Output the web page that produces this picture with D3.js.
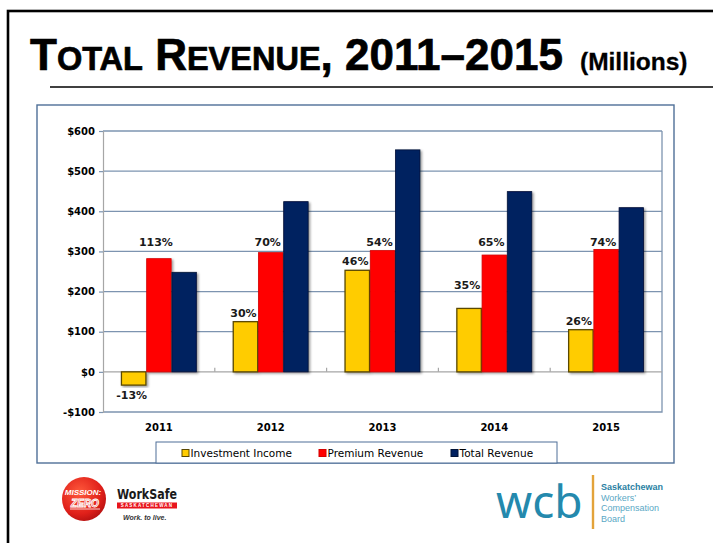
<!DOCTYPE html>
<html>
<head>
<meta charset="utf-8">
<script src="https://cdn.jsdelivr.net/npm/d3@7"></script>
<style>
  html, body { margin: 0; padding: 0; background: #fff; }
  svg { display: block; }
</style>
</head>
<body>
<svg id="chart" width="713" height="543"></svg>
<script>
// Revenue by year, in millions of dollars
const years = ['2011', '2012', '2013', '2014', '2015'];
const investmentIncome = [-33, 125, 253, 158, 105];
const premiumRevenue = [282, 297, 302, 291, 305];
const totalRevenue = [248, 424, 553, 449, 409];

// Share of total revenue printed over the bars
const investmentShare = ['-13%', '30%', '46%', '35%', '26%'];
const premiumShare = ['113%', '70%', '54%', '65%', '74%'];

const seriesNames = ['Investment Income', 'Premium Revenue', 'Total Revenue'];
const yTicks = [-100, 0, 100, 200, 300, 400, 500, 600];

const colors = {
  'Investment Income': '#FFCC00',
  'Premium Revenue': '#FF0000',
  'Total Revenue': '#002060'
};
const strokes = {
  'Investment Income': '#5a4800',
  'Premium Revenue': '#d40000',
  'Total Revenue': '#001236'
};

const svg = d3.select('#chart');

// drop shadow for bars
const defs = svg.append('defs');
const shadow = defs.append('filter').attr('id', 'barShadow')
  .attr('x', '-20%').attr('y', '-10%').attr('width', '150%').attr('height', '130%');
shadow.append('feDropShadow').attr('dx', 1.6).attr('dy', 1.4)
  .attr('stdDeviation', 0.8).attr('flood-color', '#000').attr('flood-opacity', 0.4);

const rg = defs.append('radialGradient').attr('id', 'mzGrad')
  .attr('cx', '40%').attr('cy', '35%').attr('r', '70%');
rg.append('stop').attr('offset', '0%').attr('stop-color', '#ff5a3c');
rg.append('stop').attr('offset', '70%').attr('stop-color', '#e0201a');
rg.append('stop').attr('offset', '100%').attr('stop-color', '#b31010');

// slide frame
svg.append('rect').attr('x', 8).attr('y', 11).attr('width', 800).attr('height', 600)
  .attr('fill', 'none').attr('stroke', '#000').attr('stroke-width', 2.6);

// title
const title = svg.append('text').attr('x', 30).attr('y', 70)
  .attr('font-family', '"Liberation Sans", Arial, sans-serif')
  .attr('font-weight', 'bold').attr('fill', '#000')
  .attr('stroke', '#000').attr('stroke-width', 0.7);
const big = 44, small = 32.5;
[['T', big], ['OTAL', small], [' R', big], ['EVENUE', small], [', 2011\u20132015', big]]
  .forEach(([t, s]) => title.append('tspan').attr('font-size', s).text(t));

svg.append('text').attr('x', 580).attr('y', 70)
  .attr('font-family', '"Liberation Sans", Arial, sans-serif')
  .attr('font-weight', 'bold').attr('font-size', 24.5).attr('fill', '#000')
  .attr('stroke', '#000').attr('stroke-width', 0.3)
  .text('(Millions)');

svg.append('line').attr('x1', 50).attr('x2', 713).attr('y1', 87).attr('y2', 87)
  .attr('stroke', '#000').attr('stroke-width', 1.3);

// chart frame
svg.append('rect').attr('x', 37).attr('y', 105).attr('width', 637).attr('height', 358)
  .attr('fill', '#fff').attr('stroke', '#4f6f98').attr('stroke-width', 1.4);

// plot area
const plot = { left: 103, right: 662, top: 131, bottom: 412 };
const gridColor = '#7d94b0';

const y = d3.scaleLinear().domain([-100, 600]).range([plot.bottom, plot.top]);
const x0 = d3.scaleBand().domain(years).range([plot.left, plot.right])
  .paddingInner(0.33).paddingOuter(0.165);
const x1 = d3.scaleBand().domain(seriesNames).range([0, x0.bandwidth()]).paddingInner(0.03);

// gridlines
svg.append('g').selectAll('line')
  .data(yTicks.filter(v => v > 0))
  .join('line')
  .attr('x1', plot.left).attr('x2', plot.right)
  .attr('y1', d => y(d)).attr('y2', d => y(d))
  .attr('stroke', gridColor).attr('stroke-width', 1.3);

// plot border right and bottom
svg.append('path')
  .attr('d', `M${plot.right},${plot.top}V${plot.bottom}H${plot.left}`)
  .attr('fill', 'none').attr('stroke', gridColor).attr('stroke-width', 1.3);

// y axis
const fmt = d => (d < 0 ? '-$' : '$') + Math.abs(d);
const yAxis = svg.append('g').attr('transform', `translate(${plot.left},0)`)
  .call(d3.axisLeft(y).tickValues(yTicks).tickFormat(fmt).tickSize(4).tickPadding(4));
yAxis.select('.domain').attr('stroke', '#a6a6a6').attr('stroke-width', 1.2);
yAxis.selectAll('.tick line').attr('stroke', gridColor).attr('stroke-width', 1.2);
yAxis.selectAll('.tick text')
  .attr('font-family', '"DejaVu Sans", Verdana, sans-serif')
  .attr('font-weight', 'bold').attr('font-size', 10).attr('fill', '#000');

// zero line with category boundary ticks
svg.append('line').attr('x1', plot.left).attr('x2', plot.right)
  .attr('y1', y(0)).attr('y2', y(0))
  .attr('stroke', '#a6a6a6').attr('stroke-width', 1.3);
const step = x0.step();
svg.append('g').selectAll('line')
  .data(years.slice(1))
  .join('line')
  .attr('x1', d => x0(d) - step * x0.paddingInner() / 2)
  .attr('x2', d => x0(d) - step * x0.paddingInner() / 2)
  .attr('y1', y(0) - 4).attr('y2', y(0))
  .attr('stroke', '#a6a6a6').attr('stroke-width', 1.2);

// x axis labels
const xAxis = svg.append('g').attr('transform', `translate(0,${plot.bottom})`)
  .call(d3.axisBottom(x0).tickSize(0).tickPadding(11.5));
xAxis.select('.domain').remove();
xAxis.selectAll('.tick text')
  .attr('font-family', '"DejaVu Sans", Verdana, sans-serif')
  .attr('font-weight', 'bold').attr('font-size', 10).attr('fill', '#000');

// bars
const rows = years.map((yr, i) => ({
  year: yr,
  values: [
    { key: 'Investment Income', value: investmentIncome[i] },
    { key: 'Premium Revenue', value: premiumRevenue[i] },
    { key: 'Total Revenue', value: totalRevenue[i] }
  ]
}));

const groups = svg.append('g').selectAll('g')
  .data(rows).join('g')
  .attr('transform', d => `translate(${x0(d.year)},0)`);

groups.selectAll('rect')
  .data(d => d.values).join('rect')
  .attr('x', d => x1(d.key))
  .attr('width', x1.bandwidth())
  .attr('y', d => y(Math.max(0, d.value)))
  .attr('height', d => Math.abs(y(d.value) - y(0)))
  .attr('fill', d => colors[d.key])
  .attr('stroke', d => strokes[d.key])
  .attr('stroke-width', d => d.key === 'Investment Income' ? 1.3 : 0.8)
  .attr('filter', 'url(#barShadow)');

// share labels
const labelFont = '"DejaVu Sans", Verdana, sans-serif';
const premTop = y(d3.max(premiumRevenue));
svg.append('g').selectAll('text')
  .data(years).join('text')
  .attr('x', (d, i) => x0(d) + x1('Premium Revenue') + x1.bandwidth() / 2 - 3)
  .attr('y', premTop - 3)
  .attr('text-anchor', 'middle')
  .attr('font-family', labelFont).attr('font-weight', 'bold')
  .attr('font-size', 11).attr('fill', '#1a1a1a')
  .text((d, i) => premiumShare[i]);

// the 2014 label sits higher to clear the bar
const investLift = { '2014': 14 };
svg.append('g').selectAll('text')
  .data(years).join('text')
  .attr('x', d => x0(d) + x1('Investment Income') + x1.bandwidth() / 2 - 2)
  .attr('y', (d, i) => {
    const v = investmentIncome[i];
    return v < 0 ? y(v) + 14 : y(v) - 5 - (investLift[d] || 0);
  })
  .attr('text-anchor', 'middle')
  .attr('font-family', labelFont).attr('font-weight', 'bold')
  .attr('font-size', 11).attr('fill', '#1a1a1a')
  .text((d, i) => investmentShare[i]);

// legend
const legend = svg.append('g');
legend.append('rect').attr('x', 156).attr('y', 442).attr('width', 401).attr('height', 21)
  .attr('fill', '#fff').attr('stroke', '#4f6f98').attr('stroke-width', 1);
const legendX = [182, 319, 451];
seriesNames.forEach((name, i) => {
  legend.append('rect').attr('x', legendX[i]).attr('y', 449.5).attr('width', 7).attr('height', 7)
    .attr('fill', colors[name]).attr('stroke', strokes[name]).attr('stroke-width', 1);
  legend.append('text').attr('x', legendX[i] + 8.5).attr('y', 457)
    .attr('font-family', '"DejaVu Sans", Tahoma, sans-serif')
    .attr('font-size', 10.5).attr('fill', '#000')
    .text(name);
});

// Mission: Zero badge
const mz = svg.append('g');
mz.append('circle').attr('cx', 84).attr('cy', 499).attr('r', 22).attr('fill', 'url(#mzGrad)');
mz.append('text').attr('x', 83).attr('y', 495).attr('text-anchor', 'middle')
  .attr('font-family', '"Liberation Sans", Arial, sans-serif').attr('font-weight', 'bold')
  .attr('font-style', 'italic').attr('font-size', 8).attr('fill', '#fff')
  .text('MISSION:');
mz.append('text').attr('x', 85).attr('y', 507).attr('text-anchor', 'middle')
  .attr('font-family', '"Liberation Sans", Arial, sans-serif').attr('font-weight', 'bold')
  .attr('font-style', 'italic').attr('font-size', 10).attr('fill', '#e0201a')
  .attr('stroke', '#fff').attr('stroke-width', 0.9)
  .text('ZERO');
mz.append('line').attr('x1', 70).attr('x2', 100).attr('y1', 509).attr('y2', 509)
  .attr('stroke', '#fff').attr('stroke-width', 0.8);

// WorkSafe wordmark
const ws = svg.append('g');
ws.append('text').attr('x', 117).attr('y', 499)
  .attr('font-family', '"DejaVu Sans", Verdana, sans-serif').attr('font-weight', 'bold')
  .attr('font-size', 14).attr('fill', '#1a1a1a')
  .attr('textLength', 60).attr('lengthAdjust', 'spacingAndGlyphs')
  .text('WorkSafe');
ws.append('rect').attr('x', 117).attr('y', 502.5).attr('width', 60).attr('height', 6)
  .attr('fill', '#e8141c');
ws.append('text').attr('x', 147).attr('y', 507.3).attr('text-anchor', 'middle')
  .attr('font-family', '"Liberation Sans", Arial, sans-serif').attr('font-weight', 'bold')
  .attr('font-size', 4.5).attr('fill', '#fff').attr('letter-spacing', 1.2)
  .text('SASKATCHEWAN');
ws.append('text').attr('x', 123).attr('y', 519.5)
  .attr('font-family', '"Liberation Sans", Arial, sans-serif').attr('font-weight', 'bold')
  .attr('font-style', 'italic').attr('font-size', 7).attr('fill', '#333')
  .text('Work. to live.');

// WCB wordmark
const wcb = svg.append('g');
wcb.append('text').attr('x', 496).attr('y', 518)
  .attr('font-family', '"Noto Sans", "Open Sans", sans-serif')
  .attr('font-size', 46).attr('fill', '#2489ad')
  .text('wcb');
wcb.append('line').attr('x1', 593).attr('x2', 593).attr('y1', 475).attr('y2', 529)
  .attr('stroke', '#e3a33a').attr('stroke-width', 2.4);
const wcbLines = [['Saskatchewan', 490, 'bold', '#2a7fa3'], ['Workers\u2019', 500.5, 'normal', '#5aa8c5'],
  ['Compensation', 511, 'normal', '#5aa8c5'], ['Board', 521.5, 'normal', '#5aa8c5']];
wcbLines.forEach(([t, yy, w, c]) => {
  wcb.append('text').attr('x', 601).attr('y', yy)
    .attr('font-family', '"Liberation Sans", Arial, sans-serif')
    .attr('font-weight', w).attr('font-size', 9).attr('fill', c)
    .text(t);
});
</script>
</body>
</html>
